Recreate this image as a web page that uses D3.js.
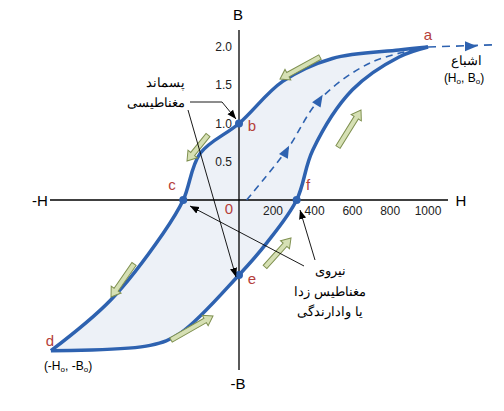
<!DOCTYPE html><html><head><meta charset="utf-8"><script src="https://cdn.jsdelivr.net/npm/d3@7"></script>
<style>body{margin:0;background:#fff}text{font-family:Arial,"Liberation Sans",sans-serif}</style></head><body><svg id="c" width="504" height="411"></svg><script>
const hTicks=[200,400,600,800,1000];
const bTicks=[0.5,1.0,1.5,2.0];
const upperBranch=[[1000,2.0],[847,1.96],[494,1.85],[231,1.55],[0,1.0],[-205,0.61],[-295,0],[-400,-0.43],[-680,-1.31],[-995,-1.97]];
const lowerBranch=[[-995,-1.97],[-470,-1.9],[-310,-1.74],[0,-0.98],[147,-0.56],[305,0],[390,0.65],[600,1.44],[847,1.87],[1000,2.0]];
const initialCurve=[[40,0],[252,0.65],[426,1.31],[700,1.8],[1000,2.0]];
const extension=[[1000,2.0],[1370,2.03]];
const points=[["a",1000,2.0],["b",0,1.0],["c",-295,0],["d",-995,-1.97],["e",0,-0.98],["f",305,0]];
const svg=d3.select("#c");
const x=d3.scaleLinear().domain([0,1000]).range([239,428]);
const y=d3.scaleLinear().domain([0,1]).range([200,123.5]);
const line=d3.line().x(d=>x(d[0])).y(d=>y(d[1])).curve(d3.curveCatmullRom);
const blue="#2e62b0",red="#b5403a";
svg.append("defs").html(`<marker id="ar" viewBox="0 0 10 10" refX="10" refY="5" markerWidth="9" markerHeight="9" orient="auto-start-reverse" markerUnits="userSpaceOnUse"><path d="M0,1L10,5L0,9z" fill="#000"/></marker>`);
// fill
svg.append("path").attr("d",line(upperBranch)+"L"+line(lowerBranch).slice(1)).attr("fill","#edf1f7");
// axes
svg.append("line").attr("x1",50).attr("x2",448).attr("y1",y(0)).attr("y2",y(0)).attr("stroke","#000").attr("stroke-width",1.3);
svg.append("line").attr("x1",x(0)).attr("x2",x(0)).attr("y1",30).attr("y2",370).attr("stroke","#000").attr("stroke-width",1.3);
const tf="#222";
hTicks.forEach(t=>svg.append("text").attr("x",t==200?273:x(t)).attr("y",215).attr("text-anchor","middle").attr("font-size",12).attr("fill",tf).text(t));
bTicks.forEach(t=>svg.append("text").attr("x",232).attr("y",y(t)+4).attr("text-anchor","end").attr("font-size",12).attr("fill",tf).text(t.toFixed(1)));
svg.append("text").attr("x",238).attr("y",20).attr("text-anchor","middle").attr("font-size",15).text("B");
svg.append("text").attr("x",238).attr("y",389).attr("text-anchor","middle").attr("font-size",15).text("-B");
svg.append("text").attr("x",40).attr("y",206).attr("text-anchor","middle").attr("font-size",15).text("-H");
svg.append("text").attr("x",461).attr("y",206).attr("text-anchor","middle").attr("font-size",15).text("H");
// dashed
svg.append("path").attr("d",line(initialCurve)).attr("fill","none").attr("stroke",blue).attr("stroke-width",1.6).attr("stroke-dasharray","7,5");
svg.append("path").attr("d",d3.line().x(d=>x(d[0])).y(d=>y(d[1]))(extension)).attr("fill","none").attr("stroke",blue).attr("stroke-width",1.6).attr("stroke-dasharray","8,6");
function tri(px,py,ang){svg.append("path").attr("d","M6,0L-6,-5L-6,5z").attr("fill",blue).attr("transform",`translate(${px},${py}) rotate(${ang})`);}
tri(x(250),y(0.64),-62);tri(x(426),y(1.31),-58);tri(471,y(2.01),0);
// loop
svg.append("path").attr("d",line(upperBranch)).attr("fill","none").attr("stroke",blue).attr("stroke-width",3.5);
svg.append("path").attr("d",line(lowerBranch)).attr("fill","none").attr("stroke",blue).attr("stroke-width",3.5);
// green arrows
const greens=[[320,57,280,79],[208,135,187,161],[134,264,111,297],[171,340,213,316],[265,267,291,238],[338,147,361,110]];
greens.forEach(([x1,y1,x2,y2])=>{const a=Math.atan2(y2-y1,x2-x1)*180/Math.PI,L=Math.hypot(x2-x1,y2-y1);
svg.append("path").attr("d",`M0,-2.5L${L-9},-2.5L${L-9},-6L${L},0L${L-9},6L${L-9},2.5L0,2.5z`).attr("fill","#d6e0b4").attr("stroke","#7f9050").attr("stroke-width",1).attr("transform",`translate(${x1},${y1}) rotate(${a})`);});
// points
points.forEach(p=>{if(p[0]!="a"&&p[0]!="d")svg.append("circle").attr("cx",x(p[1])).attr("cy",y(p[2])).attr("r",4).attr("fill",blue);});
const lp={a:[428,40],b:[252,131],c:[172,190],d:[50,346],e:[252,284],f:[308,190]};
points.forEach(p=>svg.append("text").attr("x",lp[p[0]][0]).attr("y",lp[p[0]][1]).attr("text-anchor","middle").attr("font-size",15).attr("fill",red).text(p[0]));
svg.append("text").attr("x",229).attr("y",214).attr("text-anchor","middle").attr("font-size",15).attr("fill",red).text("0");
// annotations
function ln(pts,mark){svg.append("path").attr("d",d3.line()(pts)).attr("fill","none").attr("stroke","#000").attr("stroke-width",0.9).attr("marker-end",mark?"url(#ar)":null);}
ln([[190,102],[222,102],[236,119]],1);ln([[188,110],[236,277]],1);ln([[304,266],[190,206]],1);ln([[315,260],[300,210]],1);
function rt(t,px,py,anchor){svg.append("text").attr("x",px).attr("y",py).attr("text-anchor",anchor).attr("font-size",13).attr("font-family","'DejaVu Sans',sans-serif").attr("direction","rtl").text(t);}
rt("پسماند",185,87,"start");rt("مغناطیسی",185,107,"start");
rt("نیروی",330,275,"middle");rt("مغناطیس زدا",330,296,"middle");rt("یا وادارندگی",330,316,"middle");
rt("اشباع",466,65,"middle");
function sub(px,py,parts){const t=svg.append("text").attr("x",px).attr("y",py).attr("text-anchor","middle").attr("font-size",12);
parts.forEach(([s,sm])=>t.append("tspan").attr("font-size",sm?8:12).attr("dy",sm?2:null).text(s).each(function(){if(sm){}}));return t;}
const t1=svg.append("text").attr("x",464).attr("y",82).attr("text-anchor","middle").attr("font-size",12);
t1.append("tspan").text("(H");t1.append("tspan").attr("font-size",8).attr("dy",2).text("o");t1.append("tspan").attr("dy",-2).text(", B");t1.append("tspan").attr("font-size",8).attr("dy",2).text("o");t1.append("tspan").attr("dy",-2).text(")");
const t2=svg.append("text").attr("x",68).attr("y",370).attr("text-anchor","middle").attr("font-size",12);
t2.append("tspan").text("(-H");t2.append("tspan").attr("font-size",8).attr("dy",2).text("o");t2.append("tspan").attr("dy",-2).text(", -B");t2.append("tspan").attr("font-size",8).attr("dy",2).text("o");t2.append("tspan").attr("dy",-2).text(")");
</script></body></html>
